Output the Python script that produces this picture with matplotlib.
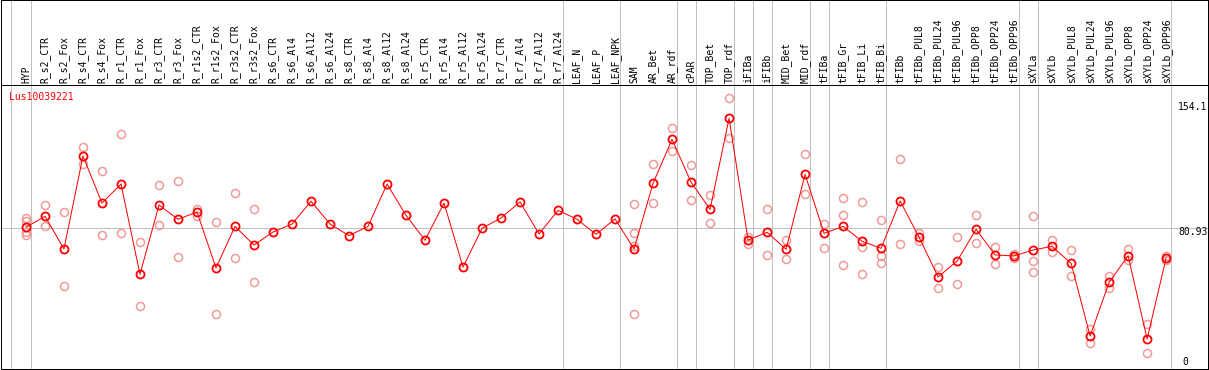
import matplotlib
matplotlib.use('Agg')
import matplotlib.pyplot as plt

samples = ['HYP', 'R_s2_CTR', 'R_s2_Fox', 'R_s4_CTR', 'R_s4_Fox', 'R_r1_CTR', 'R_r1_Fox',
           'R_r3_CTR', 'R_r3_Fox', 'R_r1s2_CTR', 'R_r1s2_Fox', 'R_r3s2_CTR', 'R_r3s2_Fox',
           'R_s6_CTR', 'R_s6_Al4', 'R_s6_Al12', 'R_s6_Al24', 'R_s8_CTR', 'R_s8_Al4',
           'R_s8_Al12', 'R_s8_Al24', 'R_r5_CTR', 'R_r5_Al4', 'R_r5_Al12', 'R_r5_Al24',
           'R_r7_CTR', 'R_r7_Al4', 'R_r7_Al12', 'R_r7_Al24', 'LEAF_N', 'LEAF_P', 'LEAF_NPK',
           'SAM', 'AR_Bet', 'AR_rdf', 'cPAR', 'TOP_Bet', 'TOP_rdf', 'iFIBa', 'iFIBb',
           'MID_Bet', 'MID_rdf', 'tFIBa', 'tFIB_Gr', 'tFIB_Li', 'tFIB_Bi', 'tFIBb',
           'tFIBb_PUL8', 'tFIBb_PUL24', 'tFIBb_PUL96', 'tFIBb_OPP8', 'tFIBb_OPP24',
           'tFIBb_OPP96', 'sXYLa', 'sXYLb', 'sXYLb_PUL8', 'sXYLb_PUL24', 'sXYLb_PUL96',
           'sXYLb_OPP8', 'sXYLb_OPP24', 'sXYLb_OPP96']

means = [81.5, 88.2, 68.4, 124.7, 96.2, 107.7, 53.1, 95.0, 86.4, 90.8, 56.9, 82.1, 70.8,
         78.7, 83.5, 97.3, 83.5, 76.5, 82.1, 107.7, 88.8, 73.7, 96.2, 57.5, 80.9,
         87.2, 96.9, 77.5, 91.8, 86.4, 77.3, 86.6,
         68.4, 108.2, 134.8, 108.8, 92.4, 147.5, 73.8, 78.5, 68.2, 113.6, 77.9,
         82.1, 73.1, 68.8, 97.5, 75.5, 51.5, 61.1, 80.3, 64.8, 64.2,
         67.8, 70.0, 59.7, 15.7, 48.2, 64.3, 13.9, 63.0]

replicates = [
    [87.2, 85.4, 78.7, 76.9], [95.0, 82.1], [90.8, 46.0], [130.1, 119.9], [115.4, 76.7],
    [137.8, 77.9], [72.5, 33.9], [107.0, 82.7], [109.6, 63.6], [92.4, 88.4], [84.7, 29.1],
    [102.3, 62.8], [92.6, 48.2],
    [], [], [], [], [], [], [], [], [], [], [], [], [], [], [], [], [], [], [],
    [95.5, 77.9, 70.4, 28.9], [119.7, 96.1], [141.5, 127.7], [119.1, 97.9], [100.9, 84.0],
    [159.6, 135.4], [75.8, 71.4], [92.4, 64.6], [73.8, 62.2], [125.7, 101.5], [83.5, 68.8],
    [99.1, 88.8, 58.5], [96.7, 69.8, 53.3], [86.0, 64.0, 59.7], [122.7, 71.2],
    [78.3, 73.4], [57.3, 45.0], [75.5, 47.2], [88.8, 71.9], [69.6, 59.5], [65.4, 63.0],
    [88.2, 61.0, 54.3], [73.8, 66.4], [67.6, 52.1], [19.8, 11.3], [52.1, 45.0],
    [68.4, 61.6], [22.8, 5.3], [64.2, 61.7]]

# group separators come right after these samples
group_ends = ['HYP', 'R_r7_Al24', 'LEAF_NPK', 'AR_rdf', 'cPAR', 'TOP_rdf', 'iFIBa', 'iFIBb',
              'MID_rdf', 'tFIBa', 'tFIB_Bi', 'tFIBb_OPP96', 'sXYLa', 'sXYLb_OPP96']

gene = 'Lus10039221'
ref_value = 80.93
axis_labels = ['154.1', '80.93', '0']

mono = 'DejaVu Sans Mono'
lw = 0.72
xs = list(range(len(samples)))
xlim = (-1.316, 62.18)

fig = plt.figure(figsize=(12.09, 3.70), dpi=100)
ax = fig.add_axes([0.0008, 0.0027, 0.998, 0.7676])
ax_top = fig.add_axes([0.0008, 0.7703, 0.998, 0.2284])

seps = [-0.79] + [samples.index(s) + 0.25 for s in group_ends]
for a in (ax, ax_top):
    a.set_xlim(*xlim)
    a.set_xticks([])
    a.set_yticks([])
    for sp in a.spines.values():
        sp.set_linewidth(lw)
        sp.set_color('black')
    for s in seps:
        a.axvline(s, color='#c0c0c0', lw=lw, zorder=0)

ax.set_ylim(-4.24, 167.68)
ax_top.set_ylim(0, 1)

ax.axhline(ref_value, color='#c0c0c0', lw=lw, zorder=0)

rx, ry = [], []
for i, reps in enumerate(replicates):
    for v in reps:
        rx.append(i)
        ry.append(v)
ax.plot(rx, ry, linestyle='none', marker='o', markersize=5.8, markerfacecolor='none',
        markeredgecolor='#f09a9a', markeredgewidth=1.1, zorder=2)
ax.plot(xs, means, color='red', lw=lw, marker='o', markersize=5.8, markerfacecolor='none',
        markeredgecolor='red', markeredgewidth=1.3, zorder=3)

for i, name in enumerate(samples):
    ax_top.text(i, 0.024, name, rotation=90, ha='center', va='bottom',
                family=mono, fontsize=7)

ax.text(0.0066, 0.957, gene, transform=ax.transAxes, color='red', family=mono,
        fontsize=7, va='center', ha='left')

lx = (1178 - 26) / 19
ax.text(lx, 154.1, axis_labels[0], family=mono, fontsize=7, va='center', ha='left')
ax.text(lx, ref_value + 0.5, axis_labels[1], family=mono, fontsize=7, va='top', ha='left')
ax.text(lx + 0.2, 0, axis_labels[2], family=mono, fontsize=7, va='center', ha='left')

fig.savefig('out.png', dpi=100)
